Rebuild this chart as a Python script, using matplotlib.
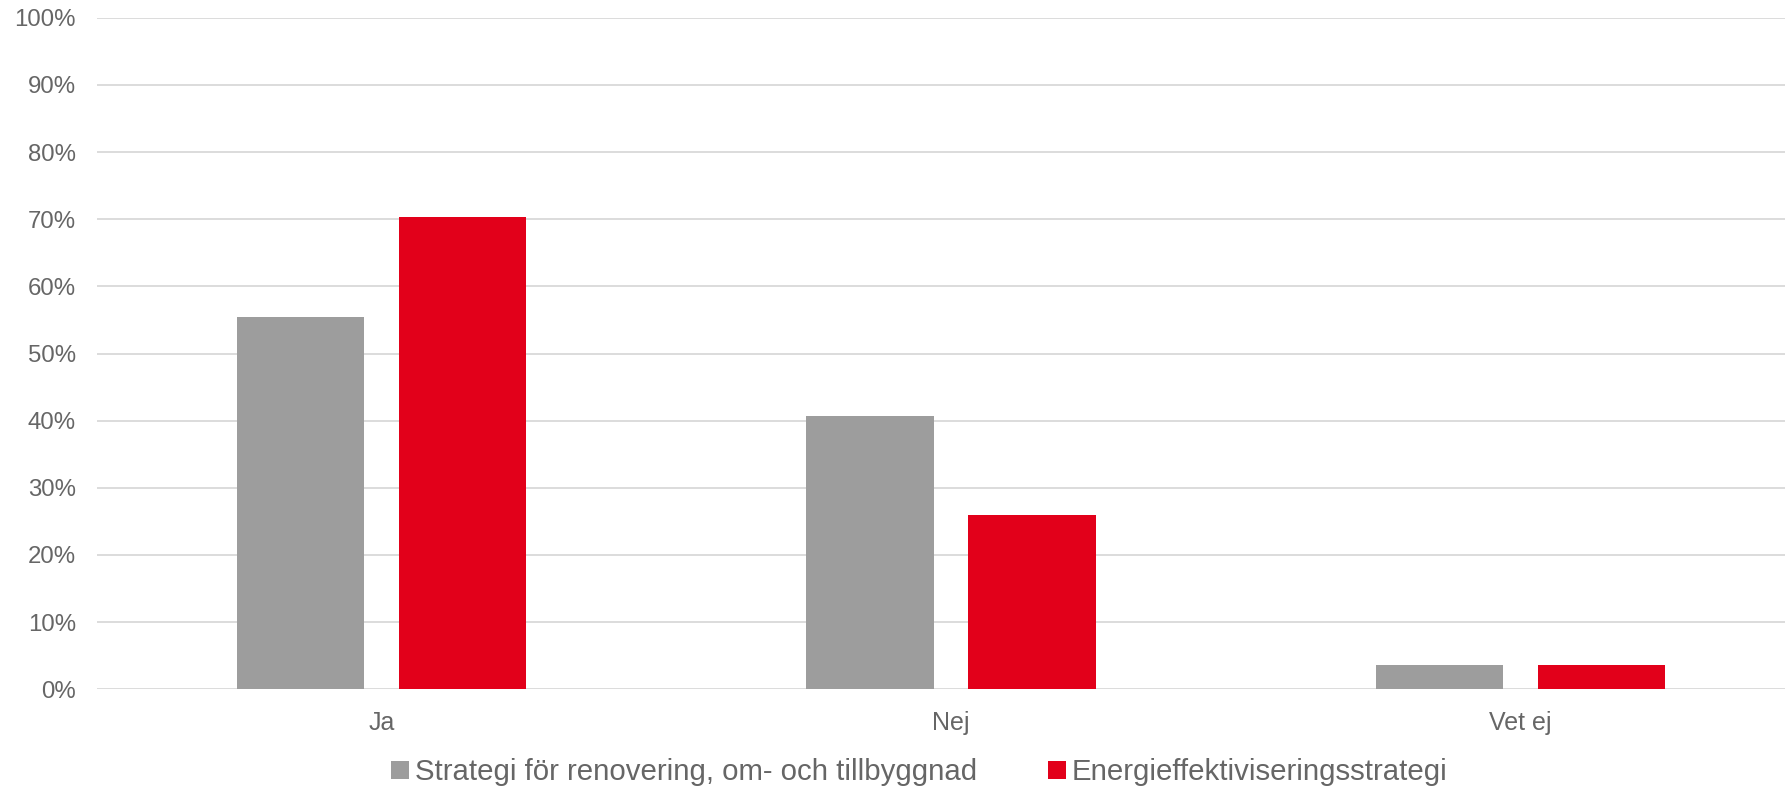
import matplotlib
matplotlib.use("Agg")
import matplotlib.pyplot as plt
import numpy as np
from matplotlib.ticker import FuncFormatter

categories = ["Ja", "Nej", "Vet ej"]
series_names = ["Strategi för renovering, om- och tillbyggnad", "Energieffektiviseringsstrategi"]
renovering = [55.4, 40.7, 3.6]
energi = [70.3, 25.9, 3.6]
yticks = [0, 10, 20, 30, 40, 50, 60, 70, 80, 90, 100]

plt.rcParams['font.family'] = ['Liberation Sans', 'DejaVu Sans']
text_color = "#666666"
grid_color = "#D9D9D9"
grey = "#9D9D9D"
red = "#E2001A"

fig = plt.figure(figsize=(17.85, 7.89), dpi=100)
ax = fig.add_axes([0.0543, 0.1264, 0.957, 0.851])

x = np.arange(len(categories))
w = 0.2237
off = 0.1424
ax.bar(x - off, renovering, width=w, color=grey, label=series_names[0], zorder=3)
ax.bar(x + off, energi, width=w, color=red, label=series_names[1], zorder=3)

ax.set_xlim(-0.5, len(categories) - 0.5)
ax.set_ylim(0, 100)
ax.set_yticks(yticks)
ax.yaxis.set_major_formatter(FuncFormatter(lambda v, p: f"{int(v)}%"))
ax.set_xticks(x)
ax.set_xticklabels(categories)
ax.grid(axis='y', color=grid_color, linewidth=1.3, zorder=0)
ax.set_axisbelow(True)
for s in ax.spines.values():
    s.set_visible(False)
ax.tick_params(axis='y', length=0, pad=15, labelsize=17.3, labelcolor=text_color)
ax.tick_params(axis='x', length=0, pad=15.5, labelsize=18, labelcolor=text_color)

leg = fig.legend(loc='center', bbox_to_anchor=(0.515, 0.0215), ncol=2, frameon=False,
                 fontsize=21.2, handlelength=0.62, handleheight=0.56, handletextpad=0.2,
                 columnspacing=2.4, borderpad=0, borderaxespad=0)
for t in leg.get_texts():
    t.set_color(text_color)

fig.savefig("out.png", dpi=100)
